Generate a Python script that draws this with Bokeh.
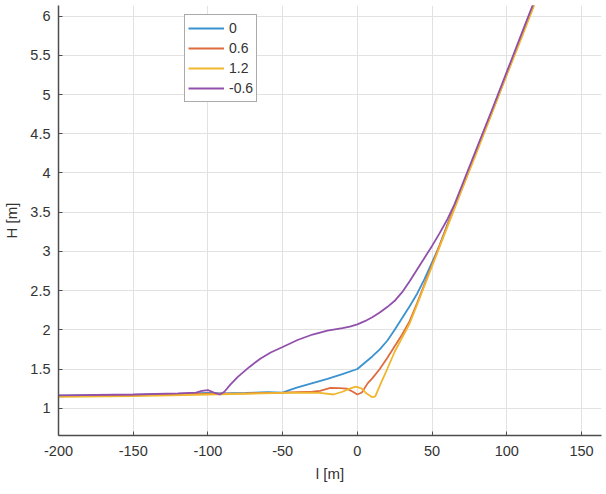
from bokeh.plotting import figure
from bokeh.models import ColumnDataSource, FixedTicker, NumeralTickFormatter, Legend, LegendItem
from bokeh.embed import file_html
from bokeh.resources import INLINE

# ---- data ----
l_0 = [-200, -175, -150, -125, -110, -100, -90, -75, -60, -50, -45, -40, -30, -20, -10, 0,
       5, 10, 15, 20, 25, 30, 35, 40, 45, 50, 55, 60, 70, 80, 90, 100, 110, 120]
H_0 = [1.16, 1.165, 1.17, 1.18, 1.19, 1.195, 1.19, 1.195, 1.205, 1.20, 1.235, 1.265, 1.32, 1.375, 1.435, 1.50,
       1.58, 1.66, 1.75, 1.86, 2.00, 2.15, 2.30, 2.46, 2.65, 2.86, 3.07, 3.33, 3.81, 4.30, 4.78, 5.27, 5.76, 6.25]

l_06 = [-200, -150, -100, -75, -50, -40, -30, -25, -18, -12, -7, -3, 0, 3, 7,
        10, 15, 20, 25, 30, 35, 40, 50, 60, 70, 80, 90, 100, 110, 120]
H_06 = [1.155, 1.165, 1.185, 1.19, 1.20, 1.205, 1.21, 1.22, 1.26, 1.255, 1.25, 1.21, 1.175, 1.20, 1.32,
        1.38, 1.50, 1.64, 1.79, 1.94, 2.11, 2.34, 2.83, 3.32, 3.80, 4.29, 4.77, 5.26, 5.75, 6.24]

l_12 = [-200, -150, -100, -50, -35, -25, -16, -10, -5, -1, 3, 6, 10, 12,
        16, 20, 25, 30, 35, 40, 50, 60, 70, 80, 90, 100, 110, 120]
H_12 = [1.145, 1.155, 1.175, 1.195, 1.20, 1.195, 1.175, 1.21, 1.25, 1.275, 1.25, 1.19, 1.14, 1.15,
        1.33, 1.50, 1.72, 1.90, 2.08, 2.32, 2.81, 3.30, 3.79, 4.27, 4.76, 5.25, 5.73, 6.22]

l_m06 = [-200, -150, -120, -108, -104, -100, -96, -92, -89, -85, -80, -72, -65, -58, -50,
         -40, -30, -20, -10, -5, 0, 5, 10, 15, 20, 25, 30, 35, 40, 45, 50, 55, 60, 65, 70,
         80, 90, 100, 110, 120]
H_m06 = [1.165, 1.175, 1.19, 1.20, 1.22, 1.23, 1.20, 1.175, 1.21, 1.30, 1.40, 1.53, 1.63, 1.71, 1.78,
         1.87, 1.94, 1.99, 2.02, 2.04, 2.07, 2.11, 2.16, 2.22, 2.29, 2.37, 2.48, 2.62, 2.77, 2.92, 3.07, 3.23, 3.40, 3.60, 3.84,
         4.32, 4.80, 5.29, 5.78, 6.27]

series_names = ["0", "0.6", "1.2", "-0.6"]
series_l = [l_0, l_06, l_12, l_m06]
series_H = [H_0, H_06, H_12, H_m06]
colors = ["#3a92cf", "#de6c3e", "#efb62e", "#9150ab"]

x_ticks = [-200, -150, -100, -50, 0, 50, 100, 150]
y_ticks = [1, 1.5, 2, 2.5, 3, 3.5, 4, 4.5, 5, 5.5, 6]

FONT = "Liberation Sans"
TXT = "#333333"

p = figure(width=606, height=494, output_backend="svg", toolbar_location=None,
           x_range=(-200, 163.4), y_range=(0.652, 6.136),
           min_border_left=57, min_border_top=5, min_border_right=5, min_border_bottom=59,
           x_axis_label="l [m]", y_axis_label="H [m]")
p.outline_line_color = None
p.background_fill_color = "white"
p.border_fill_color = "white"

for ax in (p.xaxis[0], p.yaxis[0]):
    ax.axis_line_color = "#4d4d4d"
    ax.axis_line_width = 1.5
    ax.major_tick_line_color = "#4d4d4d"
    ax.major_tick_in = 4
    ax.major_tick_out = 0
    ax.minor_tick_line_color = None
    ax.major_label_text_font = FONT
    ax.major_label_text_font_size = "14.5px"
    ax.major_label_text_color = TXT
    ax.axis_label_text_font = FONT
    ax.axis_label_text_font_size = "15px"
    ax.axis_label_text_font_style = "normal"
    ax.axis_label_text_color = TXT

p.xaxis.ticker = FixedTicker(ticks=x_ticks)
p.yaxis.ticker = FixedTicker(ticks=y_ticks)
p.xaxis.formatter = NumeralTickFormatter(format="0")
p.yaxis.formatter = NumeralTickFormatter(format="0.[0]")
p.xaxis.major_label_standoff = 10
p.xaxis.axis_label_standoff = 6
p.yaxis.major_label_standoff = 8
p.yaxis.axis_label_standoff = 7

p.xgrid.ticker = FixedTicker(ticks=x_ticks)
p.ygrid.ticker = FixedTicker(ticks=y_ticks)
for g in (p.xgrid[0], p.ygrid[0]):
    g.grid_line_color = "#e2e2e2"
    g.grid_line_width = 1

items = []
for name, lx, hy, c in zip(series_names, series_l, series_H, colors):
    src = ColumnDataSource(dict(l=lx, H=hy))
    r = p.line("l", "H", source=src, line_color=c, line_width=1.8)
    items.append(LegendItem(label=name, renderers=[r]))

legend = Legend(items=items, location=(126, 333))
legend.label_text_font = FONT
legend.label_text_font_size = "14px"
legend.label_text_color = TXT
legend.glyph_width = 36
legend.glyph_height = 20
legend.label_height = 20
legend.label_standoff = 5
legend.spacing = 0
legend.padding = 3
legend.margin = 0
legend.border_line_color = "#555555"
legend.border_line_width = 1.2
legend.background_fill_color = "white"
legend.background_fill_alpha = 1.0
p.add_layout(legend, "center")

open("out.html", "w").write(file_html(p, INLINE))
